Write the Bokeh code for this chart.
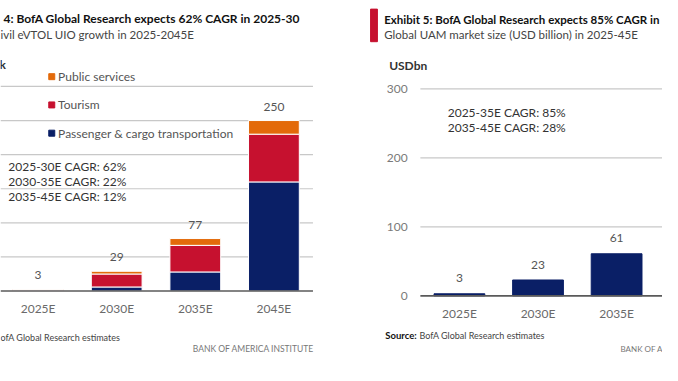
from bokeh.plotting import figure
from bokeh.layouts import row
from bokeh.models import Range1d, ColumnDataSource
from bokeh.core.properties import value
from bokeh.embed import file_html
from bokeh.resources import INLINE

# ---------------- data ----------------
uio_years = ["2025E", "2030E", "2035E", "2045E"]
uio_segments = ["Public services", "Tourism", "Passenger & cargo transportation"]
uio_passenger = [1, 6, 28, 160]
uio_tourism = [1.5, 19, 39, 70]
uio_public = [0.5, 4, 10, 20]
uio_totals = [3, 29, 77, 250]
uio_ticks = [0, 50, 100, 150, 200, 250, 300]
uio_cagr = ["2025-30E CAGR: 62%", "2030-35E CAGR: 22%", "2035-45E CAGR: 12%"]

uam_years = ["2025E", "2030E", "2035E"]
uam_size = [3, 23, 61]
uam_ticks = [0, 100, 200, 300]
uam_cagr = ["2025-35E CAGR: 85%", "2035-45E CAGR: 28%"]

# ---------------- style ----------------
FONT = "Lato"
NAVY = "#0a1f66"
RED = "#c6112f"
ORANGE = "#e36a0a"
GRID = "#c8c8c8"
BASE = "#5a5a5a"
W_L, W_R, H = 332, 330, 365
BAR_W = 0.646


def lx(r):
    return (r - 38.5) / 80.5


def ly(r):
    return (303.3 - r) / 0.712


def rxf(r):
    return (r - 470) / 80.5


def ryf(r):
    return (308.3 - r) / 0.72


def txt(p, x, y, t, size, color, bold=False, align="left", baseline="middle", font=FONT):
    xs = x if isinstance(x, list) else [x]
    ys = y if isinstance(y, list) else [y]
    ts = t if isinstance(t, list) else [t]
    p.text(x=xs, y=ys, text=ts, text_font=value(font), text_font_size=f"{size}px",
           text_color=color, text_align=align, text_baseline=baseline,
           text_font_style="bold" if bold else "normal")


def make_fig(w, xr, yr):
    p = figure(width=w, height=H, x_range=xr, y_range=yr, output_backend="svg",
               toolbar_location=None, x_axis_type=None, y_axis_type=None,
               min_border=0, outline_line_color=None)
    p.min_border_left = p.min_border_right = p.min_border_top = p.min_border_bottom = 0
    return p


# ---------------- left panel ----------------
left = make_fig(W_L, Range1d(lx(0), lx(340)), Range1d(ly(381), ly(0)))

txt(left, lx(3), ly(19), "4: BofA Global Research expects 62% CAGR in 2025-30", 12, "#111111", bold=True)
txt(left, lx(0), ly(35), "ivil eVTOL UIO growth in 2025-2045E", 11.5, "#444444")
txt(left, lx(-1), ly(67), "k", 12, "#333333", bold=True)

left.segment(x0=lx(0), x1=lx(320), y0=uio_ticks[1:], y1=uio_ticks[1:], line_color=GRID, line_width=1.2)

idx_l = list(range(len(uio_years)))
src_l = ColumnDataSource(dict(x=idx_l, p=uio_passenger, t=uio_tourism, u=uio_public))
left.vbar_stack(["p", "t", "u"], x="x", width=BAR_W, color=[NAVY, RED, ORANGE],
                line_color="white", line_width=1, source=src_l)
left.segment(x0=lx(0), x1=lx(320), y0=[0], y1=[0], line_color=BASE, line_width=1.6)

txt(left, idx_l, [v + 14.5 / 0.712 for v in uio_totals], [str(v) for v in uio_totals], 12, "#555555", align="center")
txt(left, idx_l, [ly(321)] * len(idx_l), uio_years, 12, "#6a6a6a", align="center")

# legend
leg_y = [ly(79.5), ly(109), ly(138.5)]
left.scatter(x=[lx(52.5)] * 3, y=leg_y, marker="square", size=6, color=[ORANGE, RED, NAVY])
txt(left, [lx(59)] * 3, leg_y, uio_segments, 12, "#555555")

txt(left, [lx(8)] * 3, [ly(173), ly(189), ly(205)], uio_cagr, 12, "#333333")

txt(left, lx(0), ly(352), "ofA Global Research estimates", 9, "#444444")
txt(left, lx(321), ly(364), "BANK OF AMERICA INSTITUTE", 8.5, "#777777", align="right")

# ---------------- right panel ----------------
right = make_fig(W_R, Range1d(rxf(340), rxf(678)), Range1d(ryf(381), ryf(0)))

right.quad(left=[rxf(379)], right=[rxf(386)], top=[ryf(9)], bottom=[ryf(43)], color=RED)
txt(right, rxf(393), ryf(20), "Exhibit 5: BofA Global Research expects 85% CAGR in", 11.5, "#111111", bold=True)
txt(right, rxf(393), ryf(35), "Global UAM market size (USD billion) in 2025-45E", 11.5, "#444444")
txt(right, rxf(398), ryf(68), "USDbn", 12, "#333333", bold=True)

right.segment(x0=rxf(430), x1=rxf(678), y0=uam_ticks[1:], y1=uam_ticks[1:], line_color=GRID, line_width=1.2)
txt(right, [rxf(417)] * len(uam_ticks), uam_ticks, [str(t) for t in uam_ticks], 12, "#7a7a7a", align="right")

idx_r = list(range(len(uam_years)))
right.vbar(x=idx_r, top=uam_size, width=BAR_W, color=NAVY)
right.segment(x0=rxf(430), x1=rxf(678), y0=[0], y1=[0], line_color=BASE, line_width=1.6)

txt(right, idx_r, [v + 16 / 0.72 for v in uam_size], [str(v) for v in uam_size], 12, "#555555", align="center")
txt(right, idx_r, [ryf(327)] * len(idx_r), uam_years, 12, "#6a6a6a", align="center")

txt(right, [rxf(458)] * 2, [ryf(117), ryf(132.7)], uam_cagr, 12, "#333333")

txt(right, rxf(394), ryf(350), "Source:", 9.5, "#111111", bold=True)
txt(right, rxf(429), ryf(350), "BofA Global Research estimates", 9, "#444444")
txt(right, rxf(635), ryf(364), "BANK OF A", 8, "#777777")

layout = row(left, right)
open("out.html", "w").write(file_html(layout, INLINE))
